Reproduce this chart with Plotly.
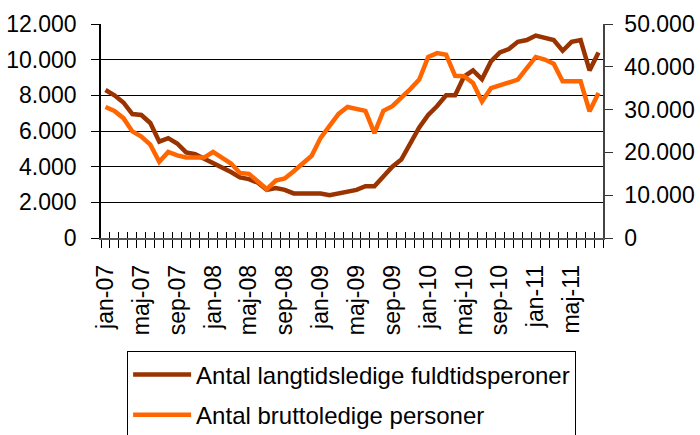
import plotly.graph_objects as go

month_names = ["jan", "feb", "mar", "apr", "maj", "jun", "jul", "aug", "sep", "okt", "nov", "dec"]
years = ["07", "08", "09", "10", "11"]
months = [f"{m}-{y}" for y in years for m in month_names][:56]  # jan-07 .. aug-11

langtid = [8300, 8000, 7600, 6950, 6900, 6450, 5400, 5600, 5300, 4800, 4700, 4450,
           4250, 3950, 3700, 3400, 3300, 3100, 2700, 2800, 2700, 2500, 2500, 2500,
           2500, 2400, 2500, 2600, 2700, 2900, 2900, 3450, 4000, 4400, 5300, 6200,
           6900, 7400, 8000, 8000, 9050, 9400, 8900, 9900, 10400, 10600, 11000, 11100,
           11350, 11250, 11100, 10500, 11000, 11100, 9400, 10400]
brutto = [30600, 29700, 28000, 24900, 23700, 21800, 17800, 20100, 19300, 18800, 18800, 18800,
          20100, 18700, 17400, 15200, 15000, 13200, 11400, 13400, 13900, 15600, 17300, 19200,
          23400, 26100, 29000, 30600, 30200, 29700, 24500, 29700, 30800, 32700, 34800, 37000,
          42300, 43200, 42800, 37900, 37800, 36200, 31900, 35000, 35600, 36200, 37000, 39700,
          42300, 41700, 40700, 36600, 36600, 36600, 29600, 33900]

left_ticks = [0, 2000, 4000, 6000, 8000, 10000, 12000]
left_text = ["0", "2.000", "4.000", "6.000", "8.000", "10.000", "12.000"]
right_ticks = [0, 10000, 20000, 30000, 40000, 50000]
right_text = ["0", "10.000", "20.000", "30.000", "40.000", "50.000"]
label_every = 4
x_text = [m if i % label_every == 0 else "" for i, m in enumerate(months)]

name1 = "Antal langtidsledige fuldtidsperoner"
name2 = "Antal bruttoledige personer"

FONT = "Liberation Sans, Arial, sans-serif"
fig = go.Figure()
fig.add_trace(go.Scatter(x=months, y=langtid, name=name1, mode="lines",
                         line=dict(color="#993300", width=4.5), legendgroup="a",
                         xaxis="x", yaxis="y"))
fig.add_trace(go.Scatter(x=months, y=brutto, name=name2, mode="lines",
                         line=dict(color="#FF6600", width=4.5), legendgroup="b",
                         xaxis="x2", yaxis="y2"))

nrange = [-0.5, len(months) - 0.5]
fig.update_layout(
    width=700, height=435,
    margin=dict(l=101, r=97, t=24, b=197, autoexpand=False),
    paper_bgcolor="white", plot_bgcolor="white",
    font=dict(family=FONT, size=23, color="black"),
    showlegend=True,
    legend=dict(x=0.052, y=-0.53, xanchor="left", yanchor="top",
                bordercolor="black", borderwidth=1, bgcolor="white",
                font=dict(size=24, family=FONT), traceorder="grouped",
                tracegroupgap=6, itemwidth=58),
    xaxis=dict(type="category", range=nrange, tickmode="array",
               tickvals=months, ticktext=x_text, tickangle=-90,
               tickson="boundaries", ticks="outside", ticklen=8, tickwidth=1,
               tickcolor="black", showgrid=False, showline=True,
               linecolor="#555555", linewidth=1.5, ticklabelstandoff=16,
               zeroline=False),
    xaxis2=dict(type="category", range=nrange, overlaying="x", anchor="y",
                side="bottom", tickmode="array", tickvals=months,
                tickson="boundaries", ticks="inside", ticklen=6, tickwidth=1,
                tickcolor="black", showticklabels=False, showgrid=False,
                showline=False, zeroline=False),
    yaxis=dict(range=[0, 12000], tickmode="array", tickvals=left_ticks,
               ticktext=left_text, ticks="outside", ticklen=8, tickcolor="black",
               showgrid=True, gridcolor="black", gridwidth=1, showline=True,
               linecolor="black", linewidth=1.5, zeroline=False,
               ticklabelstandoff=10),
    yaxis2=dict(range=[0, 50000], tickmode="array", tickvals=right_ticks,
                ticktext=right_text, overlaying="y", side="right", anchor="x2",
                ticks="outside", ticklen=8, tickcolor="#333333", showgrid=False,
                showline=True, linecolor="#444444", linewidth=1.5, zeroline=False,
                ticklabelstandoff=7),
    yaxis3=dict(range=[0, 12000], tickmode="array", tickvals=left_ticks,
                overlaying="y", side="left", anchor="x", ticks="inside", ticklen=7,
                tickcolor="black", showticklabels=False, showgrid=False,
                showline=False, zeroline=False),
    yaxis4=dict(range=[0, 50000], tickmode="array", tickvals=right_ticks,
                overlaying="y", side="right", anchor="x", ticks="inside", ticklen=7,
                tickcolor="#333333", showticklabels=False, showgrid=False,
                showline=False, zeroline=False),
)

fig.write_html("out.html", config={"displayModeBar": False},
               post_script="document.body.style.margin='0';document.body.style.overflow='hidden';")
